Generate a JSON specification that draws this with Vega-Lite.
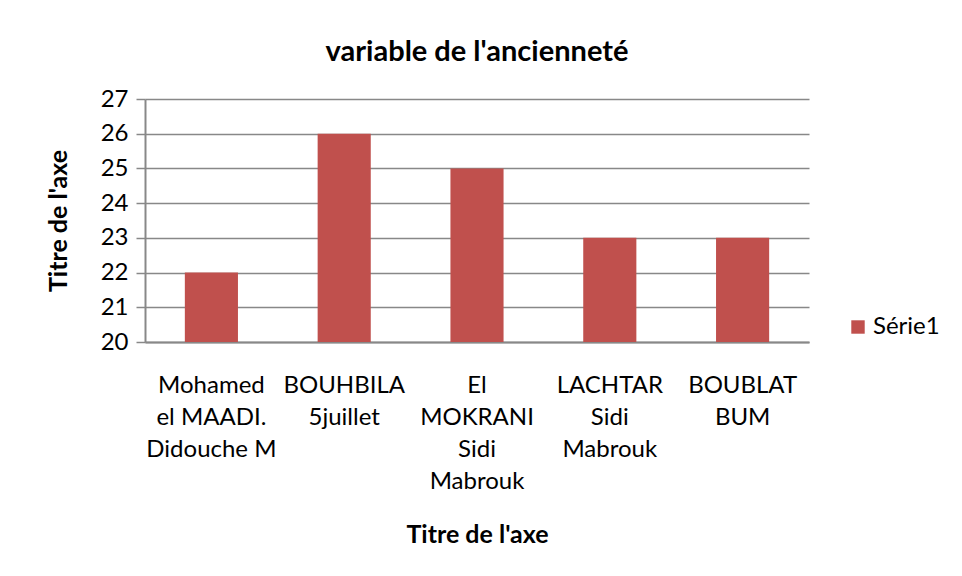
{
  "$schema": "https://vega.github.io/schema/vega-lite/v6.json",
  "autosize": {"type": "none"},
  "width": 664,
  "height": 243,
  "padding": {"left": 145, "top": 99, "right": 153, "bottom": 234},
  "background": "white",
  "title": {
    "text": "variable de l'ancienneté",
    "font": "Lato",
    "fontSize": 29,
    "fontWeight": "bold",
    "color": "black",
    "anchor": "middle",
    "offset": 20
  },
  "data": {
    "values": [
      {"site": "Mohamed el MAADI. Didouche M", "label": "Mohamed|el MAADI.|Didouche M", "value": 22, "serie": "Série1"},
      {"site": "BOUHBILA 5juillet", "label": "BOUHBILA|5juillet", "value": 26, "serie": "Série1"},
      {"site": "El MOKRANI Sidi Mabrouk", "label": "El|MOKRANI|Sidi|Mabrouk", "value": 25, "serie": "Série1"},
      {"site": "LACHTAR Sidi Mabrouk", "label": "LACHTAR|Sidi|Mabrouk", "value": 23, "serie": "Série1"},
      {"site": "BOUBLAT BUM", "label": "BOUBLAT|BUM", "value": 23, "serie": "Série1"}
    ]
  },
  "mark": {"type": "bar"},
  "encoding": {
    "x": {
      "field": "label",
      "type": "nominal",
      "sort": null,
      "scale": {"paddingInner": 0.6, "paddingOuter": 0.3},
      "axis": {
        "title": "Titre de l'axe",
        "labelExpr": "split(datum.label, '|')",
        "labelAngle": 0,
        "labelAlign": "center",
        "labelBaseline": "top",
        "labelLineHeight": 32,
        "labelFontSize": 24,
        "labelFont": "Lato",
        "labelColor": "black",
        "labelPadding": 31,
        "ticks": false,
        "domainColor": "#888888",
        "domainWidth": 2,
        "titleFont": "Lato",
        "titleFontSize": 25,
        "titleFontWeight": "bold",
        "titleColor": "black",
        "titlePadding": 29
      }
    },
    "y": {
      "field": "value",
      "type": "quantitative",
      "scale": {"domain": [20, 27], "zero": false, "nice": false},
      "axis": {
        "title": "Titre de l'axe",
        "values": [20, 21, 22, 23, 24, 25, 26, 27],
        "format": "d",
        "labelFontSize": 24,
        "labelFont": "Lato",
        "labelColor": "black",
        "labelPadding": 8,
        "tickSize": 9,
        "tickColor": "#888888",
        "tickWidth": 1.5,
        "domainColor": "#888888",
        "domainWidth": 2,
        "grid": true,
        "gridColor": "#888888",
        "gridWidth": 1.5,
        "titleFont": "Lato",
        "titleFontSize": 25,
        "titleFontWeight": "bold",
        "titleColor": "black",
        "titlePadding": 29
      }
    },
    "y2": {"datum": 20},
    "color": {
      "field": "serie",
      "type": "nominal",
      "scale": {"range": ["#C0504D"]},
      "legend": {
        "title": null,
        "orient": "none",
        "legendX": 701,
        "legendY": 216,
        "symbolType": "square",
        "symbolSize": 180,
        "symbolStrokeWidth": 0,
        "labelFont": "Lato",
        "labelFontSize": 24,
        "labelColor": "black",
        "labelOffset": 3
      }
    }
  },
  "config": {
    "view": {"stroke": null}
  }
}
